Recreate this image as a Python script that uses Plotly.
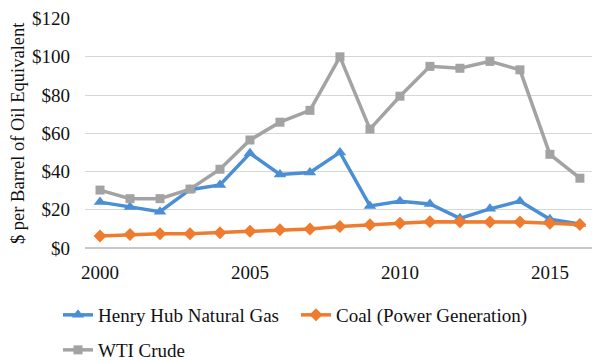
import plotly.graph_objects as go

years = list(range(2000, 2017))
gas = [24, 21.5, 19, 30.5, 33, 49.5, 38.5, 39.5, 50, 22, 24.5, 23, 15.5, 20.5, 24.5, 15, 12.5]
coal = [6.3, 7, 7.5, 7.4, 8, 8.8, 9.6, 10, 11.2, 12.2, 13, 13.7, 13.7, 13.6, 13.6, 13, 12.3]
wti = [30.3, 25.8, 25.8, 30.8, 41.2, 56.5, 65.8, 72, 100, 62.2, 79.4, 95, 94, 97.6, 93.2, 49, 36.5]

yticks = [0, 20, 40, 60, 80, 100, 120]
ytick_text = ["$" + str(v) for v in yticks]
xticks = [2000, 2005, 2010, 2015]

FONT = "Liberation Serif"
BLUE = "#4A8FD6"
ORANGE = "#EF7B2F"
GRAY = "#A3A3A3"

fig = go.Figure()
fig.add_trace(go.Scatter(x=years, y=gas, name="Henry Hub Natural Gas", mode="lines+markers",
                         line=dict(color=BLUE, width=3.5),
                         marker=dict(symbol="triangle-up", size=11, color=BLUE),
                         legend="legend"))
fig.add_trace(go.Scatter(x=years, y=coal, name="Coal (Power Generation)", mode="lines+markers",
                         line=dict(color=ORANGE, width=3.5),
                         marker=dict(symbol="diamond", size=10, color=ORANGE),
                         legend="legend2"))
fig.add_trace(go.Scatter(x=years, y=wti, name="WTI Crude", mode="lines+markers",
                         line=dict(color=GRAY, width=3.5),
                         marker=dict(symbol="square", size=9, color=GRAY),
                         legend="legend3"))

legend_common = dict(orientation="h", font=dict(family=FONT, size=19, color="#111"),
                     bgcolor="rgba(0,0,0,0)", xanchor="left", yanchor="middle",
                     xref="paper", yref="paper")

# page body has an 8px margin, so the figure is laid out 8px up/left of the target
fig.update_layout(
    width=600, height=362,
    margin=dict(l=77, r=11, t=10, b=122, autoexpand=False),
    paper_bgcolor="white", plot_bgcolor="white",
    font=dict(family=FONT, size=19, color="#111"),
    showlegend=True,
    legend=dict(legend_common, x=(58 - 85) / 512, y=(248 - 315) / 230),
    legend2=dict(legend_common, x=(296 - 85) / 512, y=(248 - 315) / 230),
    legend3=dict(legend_common, x=(58 - 85) / 512, y=(248 - 350) / 230),
    xaxis=dict(range=[1999.5, 2016.57], tickvals=xticks, showgrid=False, zeroline=False,
               showline=False, ticks="", automargin=False, ticklabeloverflow="allow",
               tickfont=dict(family=FONT, size=19, color="#111"),
               ticklabelstandoff=11),
    yaxis=dict(range=[0, 120.3], tickvals=yticks, ticktext=ytick_text, showgrid=True,
               gridcolor="#D6D6D6", gridwidth=1, zeroline=True, zerolinecolor="#C8C8C8",
               zerolinewidth=1.5, showline=False, ticks="", automargin=False,
               ticklabeloverflow="allow",
               tickfont=dict(family=FONT, size=19, color="#111"), ticklabelstandoff=14),
    annotations=[dict(text="$ per Barrel of Oil Equivalent", textangle=-90, x=(18 - 85) / 512,
                      y=0.5, xref="paper", yref="paper", showarrow=False,
                      xanchor="center", yanchor="middle",
                      font=dict(family=FONT, size=18.5, color="#111"))],
)

fig.write_html("out.html")
